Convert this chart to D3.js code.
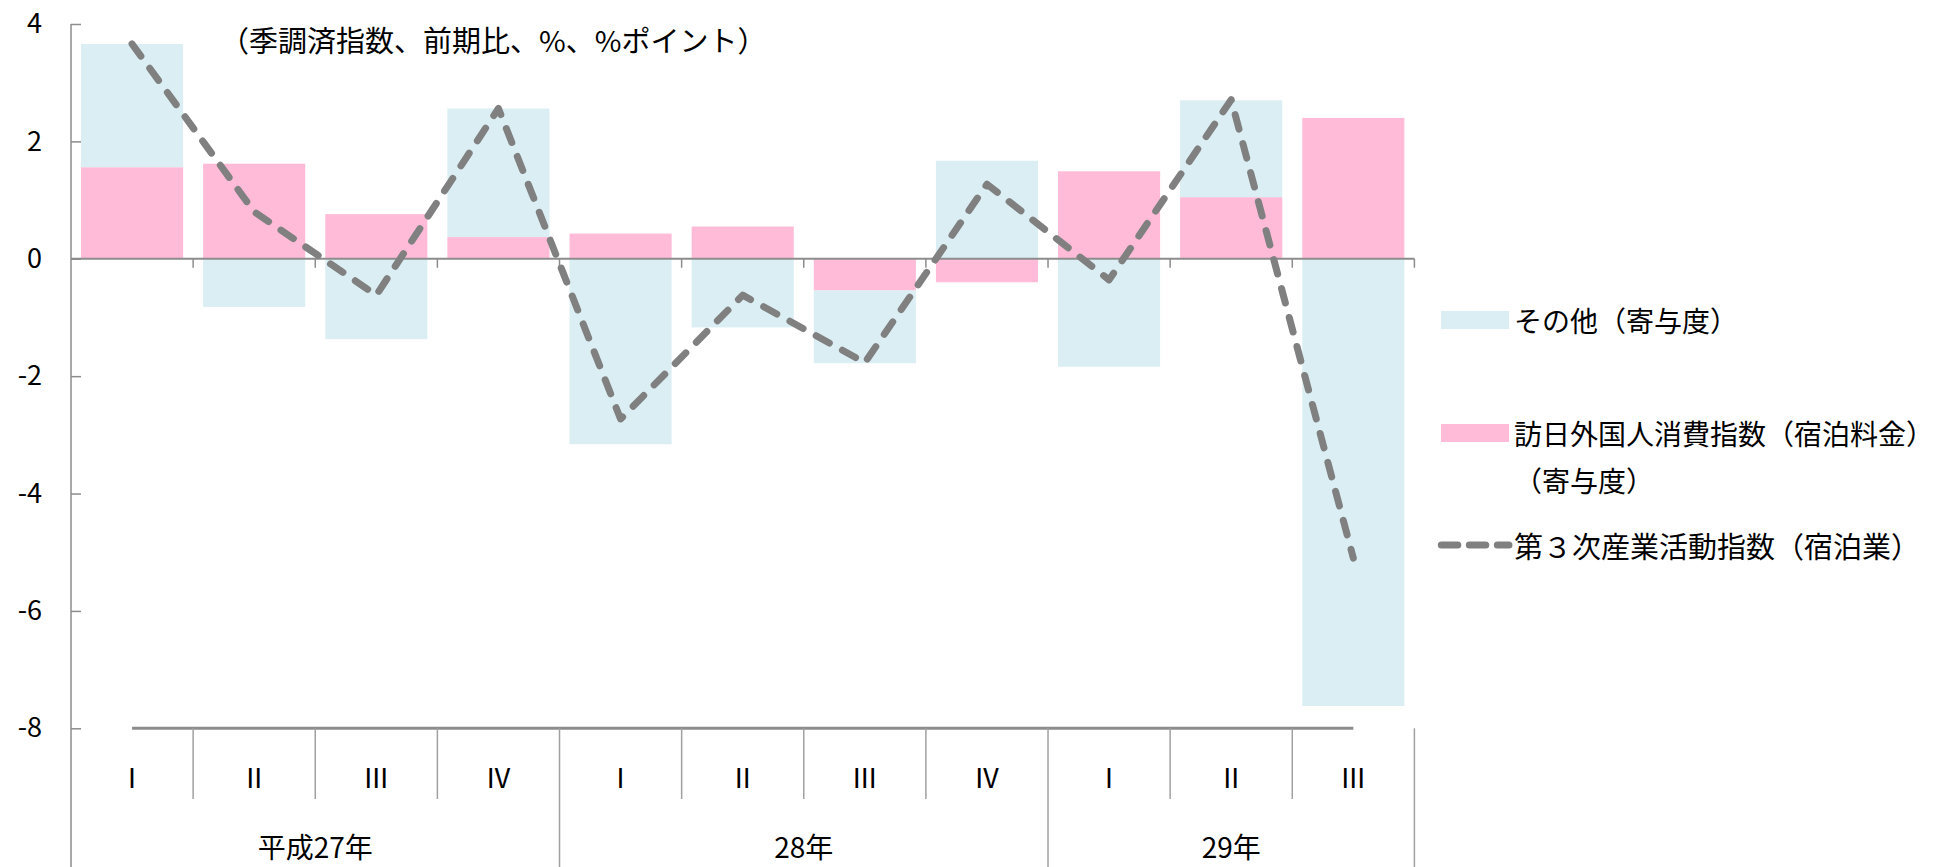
<!DOCTYPE html>
<html lang="ja">
<head>
<meta charset="UTF-8"/>
<title>宿泊業</title>
<script src="https://d3js.org/d3.v7.min.js"></script>
<style>
  body { margin: 0; background: #fff; }
  text { font-family: "Noto Sans CJK JP", "Noto Sans", sans-serif; fill: #000; }
</style>
</head>
<body>
<script>
// data
var quarters = ["Ⅰ", "Ⅱ", "Ⅲ", "Ⅳ", "Ⅰ", "Ⅱ", "Ⅲ", "Ⅳ", "Ⅰ", "Ⅱ", "Ⅲ"];
var yearLabels = ["平成27年", "28年", "29年"];
var yearSpans = [4, 4, 3];
var inbound = [1.56, 1.62, 0.76, 0.37, 0.43, 0.55, -0.54, -0.40, 1.49, 1.05, 2.40];
var other = [2.10, -0.82, -1.37, 2.19, -3.16, -1.17, -1.24, 1.67, -1.84, 1.65, -7.62];
var total = [3.66, 0.80, -0.62, 2.56, -2.73, -0.62, -1.77, 1.27, -0.36, 2.71, -5.10];
var yTicks = [4, 2, 0, -2, -4, -6, -8];
var seriesNames = ["その他（寄与度）", "訪日外国人消費指数（宿泊料金）", "（寄与度）", "第３次産業活動指数（宿泊業）"];

var w = 1941, h = 867;
var plotL = 71, plotR = 1414.4, plotT = 24, plotB = 728.3;
var colBlue = "#daeef3", colPink = "#ffbbd7", colLine = "#808080", colAxis = "#8c8c8c";

var svg = d3.select("body").append("svg")
  .attr("width", w).attr("height", h);

var idx = d3.range(quarters.length);

var x = d3.scaleBand()
  .domain(idx)
  .range([plotL, plotR])
  .paddingInner(0.164)
  .paddingOuter(0.082);

var y = d3.scaleLinear()
  .domain([-8, 4])
  .range([plotB, plotT]);

// stacked bars (positive up, negative down)
var rows = idx.map(function(i) { return { i: i, inbound: inbound[i], other: other[i] }; });
var stack = d3.stack()
  .keys(["inbound", "other"])
  .offset(d3.stackOffsetDiverging);
var layers = stack(rows);
var fills = { inbound: colPink, other: colBlue };

svg.selectAll("g.layer")
  .data(layers)
  .enter().append("g")
  .attr("class", "layer")
  .attr("fill", function(d) { return fills[d.key]; })
  .selectAll("rect")
  .data(function(d) { return d; })
  .enter().append("rect")
  .attr("x", function(d) { return x(d.data.i); })
  .attr("width", x.bandwidth())
  .attr("y", function(d) { return y(Math.max(d[0], d[1])); })
  .attr("height", function(d) { return Math.abs(y(d[0]) - y(d[1])); });

// y axis, ticks pointing inward
var yAxis = d3.axisLeft(y).tickValues(yTicks).tickSize(-10).tickPadding(0)
  .tickFormat(function(d) { return String(d); });
var gy = svg.append("g").attr("transform", "translate(" + plotL + ",0)").call(yAxis);
gy.select(".domain").remove();
gy.selectAll(".tick line").attr("stroke", colAxis).attr("stroke-width", 1.5);
gy.selectAll(".tick text")
  .attr("x", -29)
  .attr("font-size", 27)
  .attr("font-family", "Noto Sans CJK JP")
  .attr("fill", "#000");

svg.append("line")
  .attr("x1", plotL).attr("x2", plotL)
  .attr("y1", y(4)).attr("y2", h)
  .attr("stroke", colAxis).attr("stroke-width", 1.5);

// zero line with downward ticks at category boundaries
svg.append("line")
  .attr("x1", plotL).attr("x2", plotR)
  .attr("y1", y(0)).attr("y2", y(0))
  .attr("stroke", colAxis).attr("stroke-width", 2);

var bounds = d3.range(quarters.length + 1).map(function(k) { return plotL + k * x.step(); });
svg.selectAll("line.ztick")
  .data(bounds.slice(1))
  .enter().append("line")
  .attr("class", "ztick")
  .attr("x1", function(d) { return d; }).attr("x2", function(d) { return d; })
  .attr("y1", y(0)).attr("y2", y(0) + 9)
  .attr("stroke", colAxis).attr("stroke-width", 1.5);

// bottom line at -8 between first and last category centres
svg.append("line")
  .attr("x1", x(0) + x.bandwidth() / 2)
  .attr("x2", x(idx.length - 1) + x.bandwidth() / 2)
  .attr("y1", y(-8)).attr("y2", y(-8))
  .attr("stroke", colAxis).attr("stroke-width", 3);

// category separators
var yearEnds = [0];
yearSpans.forEach(function(s, k) { yearEnds.push(yearEnds[k] + s); });
svg.selectAll("line.sep")
  .data(bounds.slice(1))
  .enter().append("line")
  .attr("class", "sep")
  .attr("x1", function(d) { return d; }).attr("x2", function(d) { return d; })
  .attr("y1", y(-8))
  .attr("y2", function(d, k) { return yearEnds.indexOf(k + 1) >= 0 ? h : 799; })
  .attr("stroke", "#a0a0a0").attr("stroke-width", 1.5);

svg.selectAll("text.q")
  .data(quarters)
  .enter().append("text")
  .attr("class", "q")
  .attr("x", function(d, i) { return x(i) + x.bandwidth() / 2; })
  .attr("y", 776)
  .attr("text-anchor", "middle")
  .attr("dominant-baseline", "central")
  .attr("font-family", "DejaVu Serif, Noto Sans CJK JP")
  .attr("font-size", 27)
  .text(function(d) { return d; });

svg.selectAll("text.yr")
  .data(yearLabels)
  .enter().append("text")
  .attr("class", "yr")
  .attr("x", function(d, k) { return (bounds[yearEnds[k]] + bounds[yearEnds[k + 1]]) / 2; })
  .attr("y", 846)
  .attr("text-anchor", "middle")
  .attr("dominant-baseline", "central")
  .attr("font-size", 28)
  .text(function(d) { return d; });

// dashed line series
var line = d3.line()
  .x(function(d, i) { return x(i) + x.bandwidth() / 2; })
  .y(function(d) { return y(d); });

svg.append("path")
  .datum(total)
  .attr("d", line)
  .attr("fill", "none")
  .attr("stroke", colLine)
  .attr("stroke-width", 7)
  .attr("stroke-linecap", "round")
  .attr("stroke-linejoin", "round")
  .attr("stroke-dasharray", "15,15");

// unit note
svg.append("text")
  .attr("x", 220).attr("y", 39)
  .attr("dominant-baseline", "central")
  .attr("font-size", 29)
  .text("（季調済指数、前期比、%、%ポイント）");

// legend
var lx = 1441, tx = 1514;
svg.append("rect").attr("x", lx).attr("y", 311).attr("width", 68).attr("height", 18).attr("fill", colBlue);
svg.append("rect").attr("x", lx).attr("y", 424).attr("width", 68).attr("height", 18).attr("fill", colPink);
svg.append("line")
  .attr("x1", lx + 0.3).attr("x2", 1509)
  .attr("y1", 545).attr("y2", 545)
  .attr("stroke", colLine).attr("stroke-width", 7)
  .attr("stroke-linecap", "round")
  .attr("stroke-dasharray", "16.5,11.5");

var legendY = [320, 433, 480, 545];
var legendSize = [28, 28, 28, 29];
svg.selectAll("text.lg")
  .data(seriesNames)
  .enter().append("text")
  .attr("class", "lg")
  .attr("x", tx)
  .attr("y", function(d, k) { return legendY[k]; })
  .attr("dominant-baseline", "central")
  .attr("font-size", function(d, k) { return legendSize[k]; })
  .text(function(d) { return d; });
</script>
</body>
</html>
